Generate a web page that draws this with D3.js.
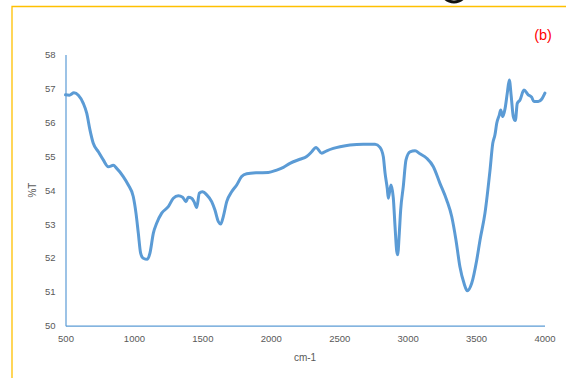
<!DOCTYPE html>
<html>
<head>
<meta charset="utf-8">
<script src="https://cdn.jsdelivr.net/npm/d3@7"></script>
<style>
  html, body { margin: 0; padding: 0; background: #fff; }
  svg { display: block; }
</style>
</head>
<body>
<svg id="chart" width="566" height="378"></svg>
<script>
// FTIR transmittance spectrum: wavenumber (cm-1) vs %T
const wavenumbers = [
  500, 528, 562, 594, 630, 655, 679, 703, 740, 776, 813, 849, 874, 922, 959, 995,
  1015, 1032, 1049, 1068, 1098, 1117, 1142, 1166, 1203, 1251, 1288, 1324, 1356, 1380,
  1397, 1422, 1439, 1459, 1478, 1500, 1532, 1568, 1592, 1617, 1634, 1653, 1678, 1714,
  1751, 1787, 1824, 1897, 1982, 2043, 2092, 2140, 2213, 2262, 2299, 2330, 2372, 2409,
  2457, 2506, 2579, 2676, 2762, 2798, 2822, 2835, 2851, 2859, 2878, 2895, 2908, 2920,
  2927, 2939, 2949, 2968, 2988, 3017, 3054, 3090, 3139, 3188, 3236, 3285, 3322, 3353,
  3382, 3412, 3436, 3468, 3505, 3529, 3565, 3602, 3622, 3638, 3651, 3670, 3680, 3695,
  3712, 3728, 3743, 3757, 3772, 3787, 3801, 3821, 3850, 3881, 3906, 3923, 3954, 3979, 4003
];
const transmittance = [
  56.81, 56.80, 56.87, 56.80, 56.56, 56.27, 55.77, 55.38, 55.13, 54.89, 54.69, 54.73, 54.64, 54.40, 54.15, 53.81,
  53.32, 52.73, 52.14, 51.99, 51.96, 52.14, 52.73, 53.02, 53.32, 53.51, 53.76, 53.83, 53.79, 53.66,
  53.79, 53.76, 53.66, 53.49, 53.91, 53.95, 53.86, 53.66, 53.41, 53.07, 53.00, 53.22, 53.66, 53.95,
  54.15, 54.40, 54.48, 54.51, 54.52, 54.59, 54.67, 54.79, 54.91, 54.99, 55.13, 55.26, 55.09, 55.16,
  55.23, 55.28, 55.33, 55.35, 55.35, 55.26, 54.99, 54.50, 54.05, 53.76, 54.15, 53.78, 52.92, 52.20,
  52.09, 52.73, 53.41, 54.10, 54.89, 55.13, 55.16, 55.07, 54.94, 54.69, 54.20, 53.71, 53.22, 52.53,
  51.74, 51.25, 51.03, 51.25, 51.94, 52.53, 53.32, 54.59, 55.38, 55.63, 55.97, 56.22, 56.36, 56.17,
  56.41, 56.86, 57.25, 56.76, 56.17, 56.05, 56.56, 56.66, 56.95, 56.81, 56.74, 56.61, 56.61, 56.68, 56.86
];
const xTicks = [500, 1000, 1500, 2000, 2500, 3000, 3500, 4000];
const yTicks = [50, 51, 52, 53, 54, 55, 56, 57, 58];

const svg = d3.select("#chart");
const font = "'Liberation Sans', 'DejaVu Sans', sans-serif";

// Panel frame (top and left edges)
svg.append("path")
  .attr("d", "M12,378 L12,6.5 L566,6.5")
  .attr("fill", "none")
  .attr("stroke", "#FFC000")
  .attr("stroke-width", 1.3);

// Partial ring clipped at the top edge
svg.append("circle")
  .attr("cx", 454).attr("cy", -11).attr("r", 13)
  .attr("fill", "none").attr("stroke", "#111").attr("stroke-width", 3);

// Panel label
svg.append("text")
  .attr("x", 543).attr("y", 40)
  .attr("text-anchor", "middle")
  .attr("fill", "#FF0000")
  .style("font-family", font).style("font-size", "14.5px")
  .text("(b)");

const x = d3.scaleLinear().domain([500, 4000]).range([65.5, 544.5]);
const y = d3.scaleLinear().domain([50, 58]).range([325.7, 54.5]);

const axisColor = "#5B9BD5";
const labelColor = "#595959";

// X axis
const gx = svg.append("g").attr("transform", `translate(0,${y(50)})`)
  .call(d3.axisBottom(x).tickValues(xTicks).tickSize(0).tickPadding(10).tickFormat(d3.format("d")));
gx.select(".domain").attr("stroke", axisColor).attr("stroke-width", 1.2);
gx.selectAll("text").attr("fill", labelColor).style("font-family", font).style("font-size", "9.5px");

// Y axis
const gy = svg.append("g").attr("transform", `translate(${x(500)},0)`)
  .call(d3.axisLeft(y).tickValues(yTicks).tickSize(0).tickPadding(10).tickFormat(d3.format("d")));
gy.select(".domain").attr("stroke", axisColor).attr("stroke-width", 1.2);
gy.selectAll("text").attr("fill", labelColor).style("font-family", font).style("font-size", "9.5px");

// Axis titles
svg.append("text")
  .attr("x", (x(500) + x(4000)) / 2).attr("y", 361)
  .attr("text-anchor", "middle")
  .attr("fill", labelColor)
  .style("font-family", font).style("font-size", "10px")
  .text("cm-1");

svg.append("text")
  .attr("transform", `translate(36,${y(54)}) rotate(-90)`)
  .attr("text-anchor", "middle")
  .attr("fill", labelColor)
  .style("font-family", font).style("font-size", "10px")
  .text("%T");

// Spectrum line
const series = wavenumbers.map((w, i) => ({ w, t: transmittance[i] }));
const line = d3.line()
  .x(d => x(d.w))
  .y(d => y(d.t))
  .curve(d3.curveMonotoneX);

svg.append("path")
  .datum(series)
  .attr("fill", "none")
  .attr("stroke", "#5B9BD5")
  .attr("stroke-width", 3)
  .attr("stroke-linejoin", "round")
  .attr("stroke-linecap", "round")
  .attr("d", line);
</script>
</body>
</html>
